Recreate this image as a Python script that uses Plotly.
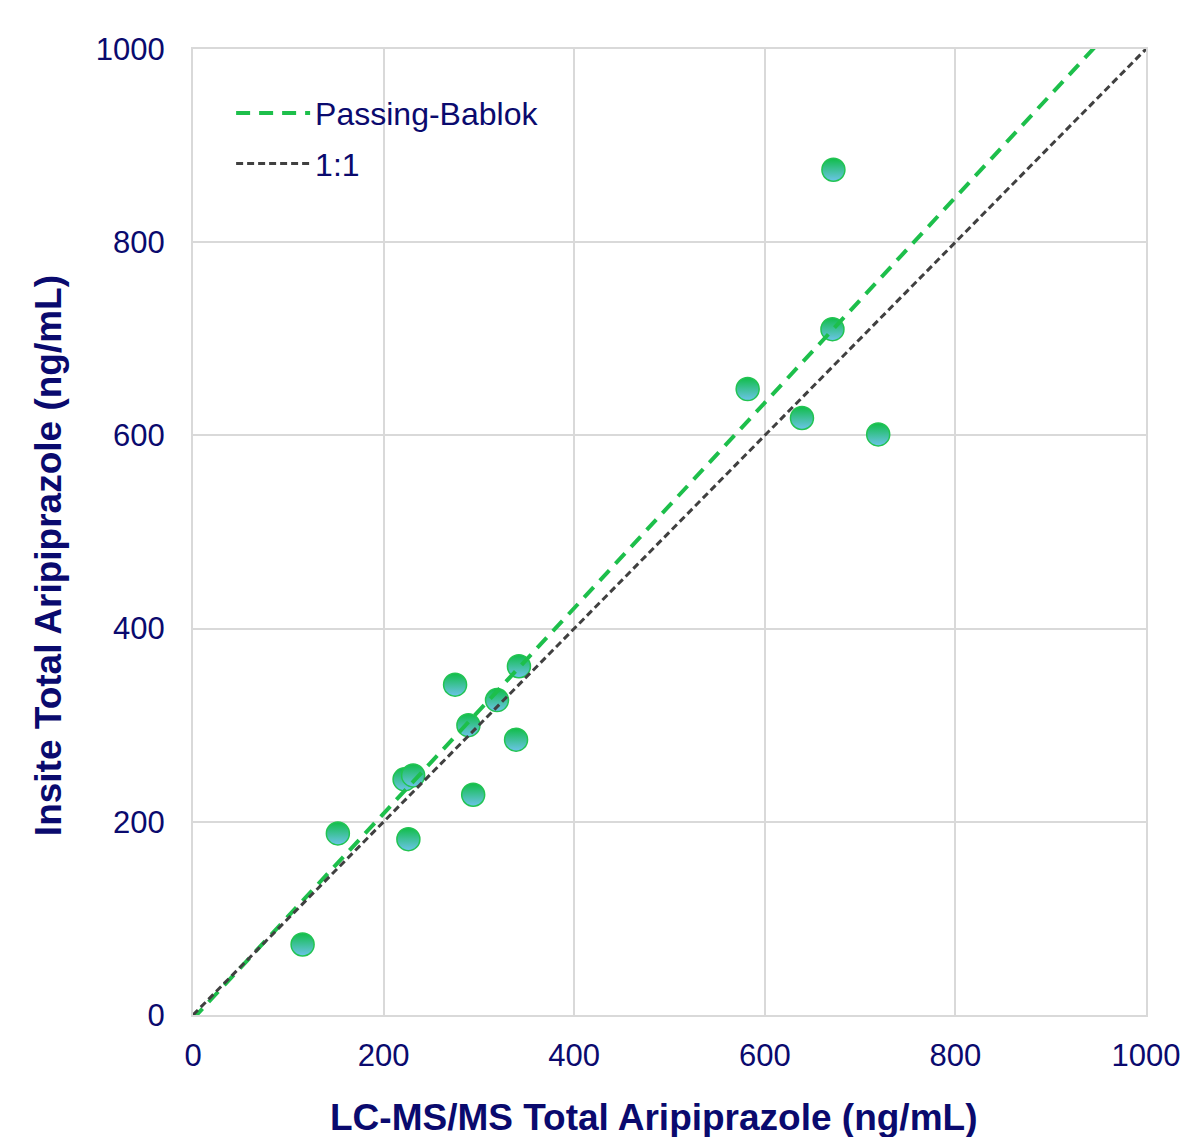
import plotly.graph_objects as go

# Data
lcms = [115, 152, 222, 231, 226, 275, 289, 294, 319, 339, 342, 582, 639, 671, 672, 719]
insite = [73, 188, 244, 248, 182, 342, 300, 228, 326, 285, 361, 648, 618, 710, 875, 601]

pb_slope = 1.063
pb_intercept = -4.0
line_x = [0, 1000]

tick_vals = [0, 200, 400, 600, 800, 1000]
tick_text = ["0", "200", "400", "600", "800", "1000"]

x_title = "LC-MS/MS Total Aripiprazole (ng/mL)"
y_title = "Insite Total Aripiprazole (ng/mL)"

navy = "#0A0A6E"
font_family = "Liberation Sans, Arial, sans-serif"

fig = go.Figure()

fig.add_trace(go.Scatter(
    x=lcms, y=insite, mode="markers", showlegend=False,
    marker=dict(size=23, color="#10BD48",
                gradient=dict(type="vertical", color="#6CC4EA"),
                line=dict(color="#22C452", width=1.5)),
))

fig.add_trace(go.Scatter(
    x=line_x, y=[pb_intercept + pb_slope * v for v in line_x],
    mode="lines", name="Passing-Bablok", legendgroup="a",
    line=dict(color="#1DBF4B", width=4, dash="14px,9px"),
))

fig.add_trace(go.Scatter(
    x=line_x, y=line_x,
    mode="lines", name="1:1", legendgroup="b",
    line=dict(color="#404040", width=3, dash="7px,4px"),
))

axis_common = dict(
    range=[0, 1000], tickvals=tick_vals, ticktext=tick_text,
    showgrid=True, gridcolor="#D9D9D9", gridwidth=2,
    zeroline=False, showline=True, linecolor="#D9D9D9", linewidth=2, mirror=True,
    tickfont=dict(family=font_family, size=31, color=navy),
    ticks="",
)

fig.update_layout(
    width=1184, height=1129,
    margin=dict(l=185, r=46, t=41, b=122, autoexpand=False),
    paper_bgcolor="white", plot_bgcolor="white",
    xaxis=dict(**axis_common, ticklabelstandoff=12),
    yaxis=dict(**axis_common, ticklabelstandoff=20),
    legend=dict(x=0.04, y=0.962, xanchor="left", yanchor="top",
                font=dict(family=font_family, size=32, color=navy),
                bgcolor="rgba(0,0,0,0)", itemwidth=74, tracegroupgap=6),
    showlegend=True,
    annotations=[
        dict(text=f"<b>{x_title}</b>", xref="paper", yref="paper",
             x=0.4837, y=-0.1056, xanchor="center", yanchor="middle",
             showarrow=False, font=dict(family=font_family, size=37, color=navy)),
        dict(text=f"<b>{y_title}</b>", xref="paper", yref="paper",
             x=-0.1522, y=0.476, xanchor="center", yanchor="middle", textangle=-90,
             showarrow=False, font=dict(family=font_family, size=37, color=navy)),
    ],
)

fig.write_html("out.html")
